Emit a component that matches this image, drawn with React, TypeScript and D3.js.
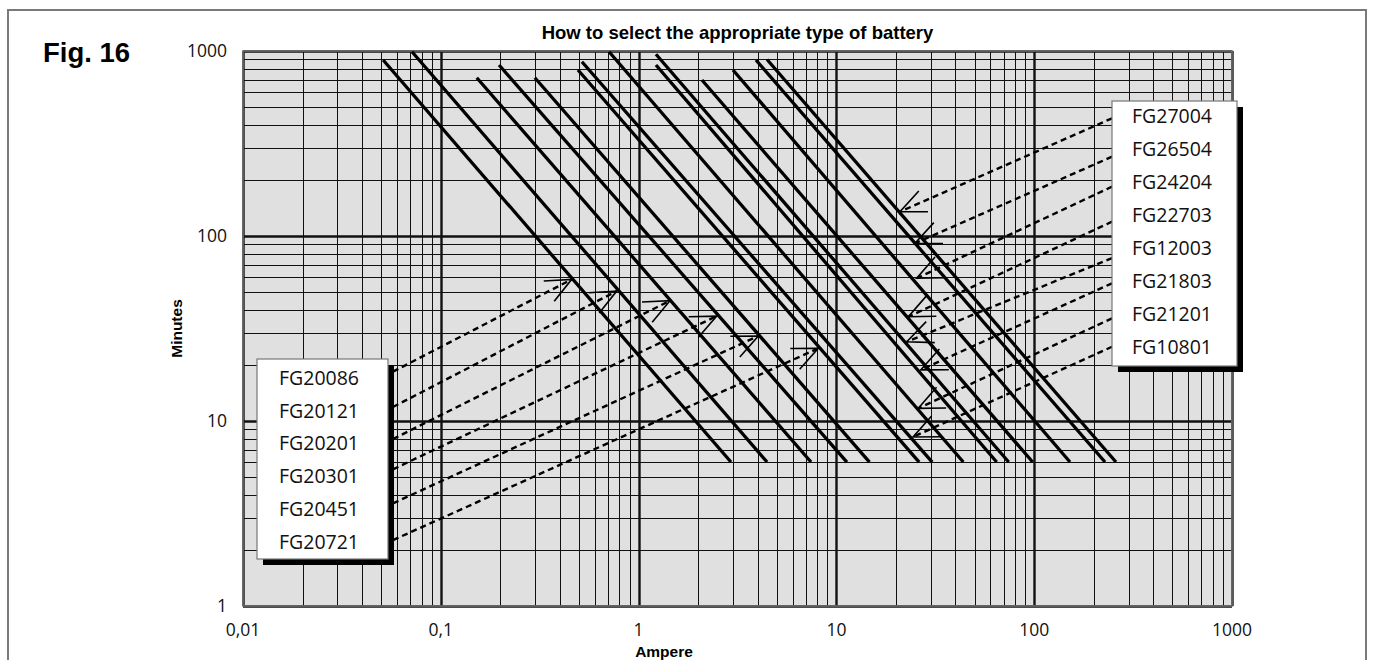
import * as d3 from 'd3';

const W = 1374;
const H = 660;
const plot = { left: 243, right: 1232, top: 51, bottom: 606 };

// solid discharge lines: current and minutes at the upper end, current at 6 minutes
const lineTopAmp = [0.0511, 0.0715, 0.152, 0.197, 0.299, 0.494, 0.517, 0.709, 1.224, 1.224, 2.09, 3.0, 3.92, 4.46];
const lineTopMin = [894, 991, 717, 840, 717, 789, 875, 991, 840, 960, 697, 789, 894, 900];
const lineEndAmp = [2.93, 4.46, 7.44, 11.3, 14.7, 26.2, 30.5, 43.8, 64.6, 74.3, 98.2, 151.7, 228, 259];
const lineEndMin = 6;

// left legend arrows
const leftNames = ['FG20086', 'FG20121', 'FG20201', 'FG20301', 'FG20451', 'FG20721'];
const leftFromAmp = 0.0573;
const leftFromMin = [18.48, 11.9, 7.99, 5.48, 3.59, 2.27];
const leftToAmp = [0.459, 0.775, 1.441, 2.482, 4.03, 8.1];
const leftToMin = [58.3, 50.4, 44.7, 36.9, 28.8, 24.7];

// right legend arrows
const rightNames = ['FG27004', 'FG26504', 'FG24204', 'FG22703', 'FG12003', 'FG21803', 'FG21201', 'FG10801'];
const rightFromAmp = 247.4;
const rightFromMin = [432.8, 268.3, 184.7, 119.5, 76.0, 55.5, 35.9, 25.2];
const rightToAmp = [20.96, 24.97, 25.47, 23.1, 22.7, 26.7, 25.9, 24.4];
const rightToMin = [135.3, 91.3, 59.1, 36.6, 26.8, 18.9, 11.7, 8.2];

const xTickValues = [0.01, 0.1, 1, 10, 100, 1000];
const xTickLabels = ['0,01', '0,1', '1', '10', '100', '1000'];
const yTickValues = [1, 10, 100, 1000];
const yTickLabels = ['1', '10', '100', '1000'];

const x = d3.scaleLog().domain([0.01, 1000]).range([plot.left, plot.right]);
const y = d3.scaleLog().domain([1, 1000]).range([plot.bottom, plot.top]);

const isDecade = (v: number) => Math.abs(Math.log10(v) - Math.round(Math.log10(v))) < 1e-9;
const crisp = (p: number) => Math.round(p) + 0.5;

const labelFont = '"Open Sans", "Noto Sans", sans-serif';
const boldFont = '"Liberation Sans", Arial, sans-serif';

function Arrow({ x1, y1, x2, y2 }: { x1: number; y1: number; x2: number; y2: number }) {
  // x2,y2 is the tip
  const back = Math.atan2(y1 - y2, x1 - x2);
  const len = 28;
  const half = (24 * Math.PI) / 180;
  const a1 = back + half;
  const a2 = back - half;
  return (
    <g>
      <line x1={x1} y1={y1} x2={x2} y2={y2} stroke="#000" strokeWidth={2.4} strokeDasharray="6,4" />
      <path
        d={`M${x2 + len * Math.cos(a1)},${y2 + len * Math.sin(a1)}L${x2},${y2}L${x2 + len * Math.cos(a2)},${y2 + len * Math.sin(a2)}`}
        fill="none"
        stroke="#000"
        strokeWidth={1.6}
      />
    </g>
  );
}

export default function App() {
  const xGrid = x.ticks();
  const yGrid = y.ticks();

  const leftBox = { x: 257, y: 359, w: 131, h: 200 };
  const rightBox = { x: 1112, y: 101, w: 125, h: 265 };
  const shadow = 6;

  return (
    <svg width={W} height={H} style={{ position: 'absolute', left: 0, top: 0, display: 'block' }}>
      <rect x={0} y={0} width={W} height={H} fill="#fff" />
      <rect x={8} y={10} width={1358} height={720} fill="none" stroke="#7a7a7a" strokeWidth={2} />

      <text x={43} y={62} fontFamily={boldFont} fontWeight={700} fontSize={27.5}>
        Fig. 16
      </text>

      <text
        x={(plot.left + plot.right) / 2}
        y={39}
        textAnchor="middle"
        fontFamily={boldFont}
        fontWeight={700}
        fontSize={18.5}
      >
        How to select the appropriate type of battery
      </text>

      {/* plot background and grid */}
      <rect x={plot.left} y={plot.top} width={plot.right - plot.left} height={plot.bottom - plot.top} fill="#e0e0e0" />
      {xGrid.map((v, i) => (
        <line
          key={'gx' + i}
          x1={crisp(x(v))}
          x2={crisp(x(v))}
          y1={plot.top}
          y2={plot.bottom}
          stroke="#111"
          strokeWidth={isDecade(v) ? 2.4 : 1}
        />
      ))}
      {yGrid.map((v, i) => (
        <line
          key={'gy' + i}
          x1={plot.left}
          x2={plot.right}
          y1={crisp(y(v))}
          y2={crisp(y(v))}
          stroke="#111"
          strokeWidth={isDecade(v) ? 2.4 : 1}
        />
      ))}
      <rect
        x={plot.left}
        y={plot.top}
        width={plot.right - plot.left}
        height={plot.bottom - plot.top}
        fill="none"
        stroke="#6e6e6e"
        strokeWidth={1.6}
      />

      {/* discharge lines */}
      {lineTopAmp.map((a, i) => (
        <line
          key={'l' + i}
          x1={x(a)}
          y1={y(lineTopMin[i])}
          x2={x(lineEndAmp[i])}
          y2={y(lineEndMin)}
          stroke="#000"
          strokeWidth={3.3}
        />
      ))}

      {/* arrows */}
      {leftNames.map((n, i) => (
        <Arrow key={n} x1={x(leftFromAmp)} y1={y(leftFromMin[i])} x2={x(leftToAmp[i])} y2={y(leftToMin[i])} />
      ))}
      {rightNames.map((n, i) => (
        <Arrow key={n} x1={x(rightFromAmp)} y1={y(rightFromMin[i])} x2={x(rightToAmp[i])} y2={y(rightToMin[i])} />
      ))}

      {/* legend boxes */}
      <rect x={leftBox.x + shadow} y={leftBox.y + shadow} width={leftBox.w} height={leftBox.h} fill="#000" />
      <rect x={leftBox.x} y={leftBox.y} width={leftBox.w} height={leftBox.h} fill="#fff" stroke="#777" strokeWidth={1.2} />
      {leftNames.map((n, i) => (
        <text key={n} x={279} y={385 + i * 32.7} fontFamily={labelFont} fontSize={19.5} fill="#111">
          {n}
        </text>
      ))}

      <rect x={rightBox.x + shadow} y={rightBox.y + shadow} width={rightBox.w} height={rightBox.h} fill="#000" />
      <rect x={rightBox.x} y={rightBox.y} width={rightBox.w} height={rightBox.h} fill="#fff" stroke="#777" strokeWidth={1.2} />
      {rightNames.map((n, i) => (
        <text key={n} x={1132} y={123.3 + i * 33} fontFamily={labelFont} fontSize={19.5} fill="#111">
          {n}
        </text>
      ))}

      {/* ticks */}
      {xTickValues.map((v, i) => (
        <text key={'xt' + i} x={x(v)} y={636} textAnchor="middle" fontFamily={labelFont} fontSize={17.5} fill="#111">
          {xTickLabels[i]}
        </text>
      ))}
      {yTickValues.map((v, i) => (
        <text
          key={'yt' + i}
          x={227}
          y={y(v) + 6}
          textAnchor="end"
          fontFamily={labelFont}
          fontSize={17.5}
          fill="#111"
        >
          {yTickLabels[i]}
        </text>
      ))}

      <text x={664} y={657} textAnchor="middle" fontFamily={boldFont} fontWeight={700} fontSize={15.5}>
        Ampere
      </text>
      <text
        transform={`translate(182, ${(plot.top + plot.bottom) / 2}) rotate(-90)`}
        textAnchor="middle"
        fontFamily={boldFont}
        fontWeight={700}
        fontSize={15.5}
      >
        Minutes
      </text>
    </svg>
  );
}
